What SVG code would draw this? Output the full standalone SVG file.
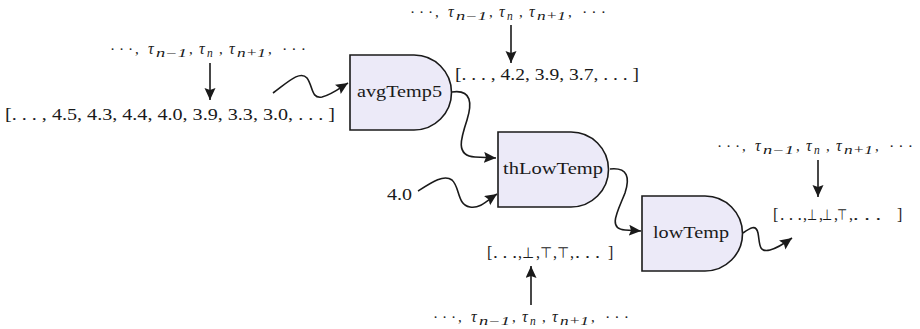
<svg xmlns="http://www.w3.org/2000/svg" width="920" height="329" viewBox="0 0 920 329">
<style>
text{font-family:'Liberation Serif','Times New Roman','DejaVu Serif',serif;fill:#1a1a1a;font-weight:normal}
.lst{font-size:16px}
.lbl{font-size:16.5px}
.tau{font-size:15px}
.sym{font-family:'DejaVu Sans',sans-serif;font-size:15px}
.t{font-style:italic;font-size:16px}
.s{font-style:italic;font-size:11.5px}
.node{fill:#ECEAF8;stroke:#1a1a1a;stroke-width:1.6}
.c{fill:none;stroke:#1a1a1a;stroke-width:1.6;marker-end:url(#ah)}
</style>
<defs>
<marker id="ah" markerUnits="userSpaceOnUse" markerWidth="14" markerHeight="12" refX="12" refY="5.5" orient="auto">
<path d="M0,0 L12,5.5 L0,11 L2,5.5 Z" fill="#1a1a1a"/>
</marker>
</defs>

<g id="connectors">
<line class="c" x1="210" y1="63" x2="210" y2="100"/>
<line class="c" x1="511" y1="25" x2="511" y2="63"/>
<line class="c" x1="818" y1="160" x2="818" y2="197"/>
<line class="c" x1="531" y1="305" x2="531" y2="266"/>
<path class="c" d="M273,93 C288,82 300,70 307,78 C313,86 311,99 322,97 C331,95 340,88 348,83"/>
<path class="c" d="M452,92 C472,89 472,104 467,120 C461,138 455,156 475,157 L496,158"/>
<path class="c" d="M418,191 C432,182 444,174 452,180 C460,187 457,205 470,207 C480,209 488,200 497,194"/>
<path class="c" d="M610,169 C628,167 630,178 625,193 C618,211 607,229 625,230 L641,231"/>
<path class="c" d="M743,233 C750,228 756,224 758,233 C760,243 758,253 770,250 C778,248 785,243 792,238"/>
</g>

<g id="avgTemp5">
<path class="node" d="M350,55 H414 A37.5,37.5 0 0 1 414,130 H350 Z"/>
<text class="lbl" x="357" y="97" textLength="85" lengthAdjust="spacingAndGlyphs">avgTemp5</text>
</g>
<g id="thLowTemp">
<path class="node" d="M498,132 H571 A37.5,37.5 0 0 1 571,207 H498 Z"/>
<text class="lbl" x="503" y="174" textLength="100" lengthAdjust="spacingAndGlyphs">thLowTemp</text>
</g>
<g id="lowTemp">
<path class="node" d="M642,196 H705 A37.5,37.5 0 0 1 705,271 H642 Z"/>
<text class="lbl" x="653" y="238" textLength="76" lengthAdjust="spacingAndGlyphs">lowTemp</text>
</g>

<g id="inputList">
<text class="lst" x="5" y="120" textLength="330" lengthAdjust="spacingAndGlyphs">[. . . , 4.5, 4.3, 4.4, 4.0, 3.9, 3.3, 3.0, . . . ]</text>
</g>
<g id="avgList">
<text class="lst" x="455" y="80" textLength="184" lengthAdjust="spacingAndGlyphs">[. . . , 4.2, 3.9, 3.7, . . . ]</text>
</g>
<g id="outList">
<text class="lst"><tspan x="773" y="220">[</tspan><tspan x="780" y="220" textLength="22" lengthAdjust="spacingAndGlyphs">. . .</tspan><tspan x="803" y="220">,</tspan><tspan class="sym" x="807" y="220" textLength="10" lengthAdjust="spacingAndGlyphs">⊥</tspan><tspan x="819" y="220">,</tspan><tspan class="sym" x="822" y="220" textLength="10" lengthAdjust="spacingAndGlyphs">⊥</tspan><tspan x="834" y="220">,</tspan><tspan class="sym" x="837" y="220" textLength="10" lengthAdjust="spacingAndGlyphs">⊤</tspan><tspan x="849" y="220">,</tspan><tspan x="853" y="220" textLength="28" lengthAdjust="spacingAndGlyphs">. . .</tspan><tspan x="897" y="220">]</tspan></text>
</g>
<g id="thList">
<text class="lst"><tspan x="487" y="258">[</tspan><tspan x="493" y="258" textLength="24" lengthAdjust="spacingAndGlyphs">. . .</tspan><tspan x="518" y="258">,</tspan><tspan class="sym" x="522" y="258" textLength="12" lengthAdjust="spacingAndGlyphs">⊥</tspan><tspan x="536" y="258">,</tspan><tspan class="sym" x="540" y="258" textLength="12" lengthAdjust="spacingAndGlyphs">⊤</tspan><tspan x="553" y="258">,</tspan><tspan class="sym" x="557" y="258" textLength="12" lengthAdjust="spacingAndGlyphs">⊤</tspan><tspan x="570" y="258">,</tspan><tspan x="575" y="258" textLength="25" lengthAdjust="spacingAndGlyphs">. . .</tspan><tspan x="608" y="258">]</tspan></text>
</g>
<g id="const">
<text class="lst" x="387" y="200" textLength="25" lengthAdjust="spacingAndGlyphs">4.0</text>
</g>

<g id="time1">
<text class="tau"><tspan x="110" y="54" textLength="23" lengthAdjust="spacingAndGlyphs">· · ·</tspan><tspan x="135" y="54">,</tspan><tspan class="t" x="148" y="54">τ</tspan><tspan class="s" x="156" y="57" textLength="31" lengthAdjust="spacingAndGlyphs">n−1</tspan><tspan x="189" y="54">,</tspan><tspan class="t" x="199" y="54">τ</tspan><tspan class="s" x="207" y="57">n</tspan><tspan x="219" y="54">,</tspan><tspan class="t" x="229" y="54">τ</tspan><tspan class="s" x="237" y="57" textLength="29" lengthAdjust="spacingAndGlyphs">n+1</tspan><tspan x="268" y="54">,</tspan><tspan x="282" y="54" textLength="24" lengthAdjust="spacingAndGlyphs">· · ·</tspan></text>
</g>
<g id="time2">
<text class="tau"><tspan x="410" y="17" textLength="23" lengthAdjust="spacingAndGlyphs">· · ·</tspan><tspan x="435" y="17">,</tspan><tspan class="t" x="448" y="17">τ</tspan><tspan class="s" x="456" y="20" textLength="31" lengthAdjust="spacingAndGlyphs">n−1</tspan><tspan x="489" y="17">,</tspan><tspan class="t" x="499" y="17">τ</tspan><tspan class="s" x="507" y="20">n</tspan><tspan x="519" y="17">,</tspan><tspan class="t" x="529" y="17">τ</tspan><tspan class="s" x="537" y="20" textLength="29" lengthAdjust="spacingAndGlyphs">n+1</tspan><tspan x="568" y="17">,</tspan><tspan x="582" y="17" textLength="24" lengthAdjust="spacingAndGlyphs">· · ·</tspan></text>
</g>
<g id="time3">
<text class="tau"><tspan x="717" y="151" textLength="23" lengthAdjust="spacingAndGlyphs">· · ·</tspan><tspan x="742" y="151">,</tspan><tspan class="t" x="755" y="151">τ</tspan><tspan class="s" x="763" y="154" textLength="31" lengthAdjust="spacingAndGlyphs">n−1</tspan><tspan x="796" y="151">,</tspan><tspan class="t" x="806" y="151">τ</tspan><tspan class="s" x="814" y="154">n</tspan><tspan x="826" y="151">,</tspan><tspan class="t" x="836" y="151">τ</tspan><tspan class="s" x="844" y="154" textLength="29" lengthAdjust="spacingAndGlyphs">n+1</tspan><tspan x="875" y="151">,</tspan><tspan x="889" y="151" textLength="24" lengthAdjust="spacingAndGlyphs">· · ·</tspan></text>
</g>
<g id="time4">
<text class="tau"><tspan x="433" y="322" textLength="23" lengthAdjust="spacingAndGlyphs">· · ·</tspan><tspan x="458" y="322">,</tspan><tspan class="t" x="471" y="322">τ</tspan><tspan class="s" x="479" y="325" textLength="31" lengthAdjust="spacingAndGlyphs">n−1</tspan><tspan x="512" y="322">,</tspan><tspan class="t" x="522" y="322">τ</tspan><tspan class="s" x="530" y="325">n</tspan><tspan x="542" y="322">,</tspan><tspan class="t" x="552" y="322">τ</tspan><tspan class="s" x="560" y="325" textLength="29" lengthAdjust="spacingAndGlyphs">n+1</tspan><tspan x="591" y="322">,</tspan><tspan x="605" y="322" textLength="24" lengthAdjust="spacingAndGlyphs">· · ·</tspan></text>
</g>
</svg>
